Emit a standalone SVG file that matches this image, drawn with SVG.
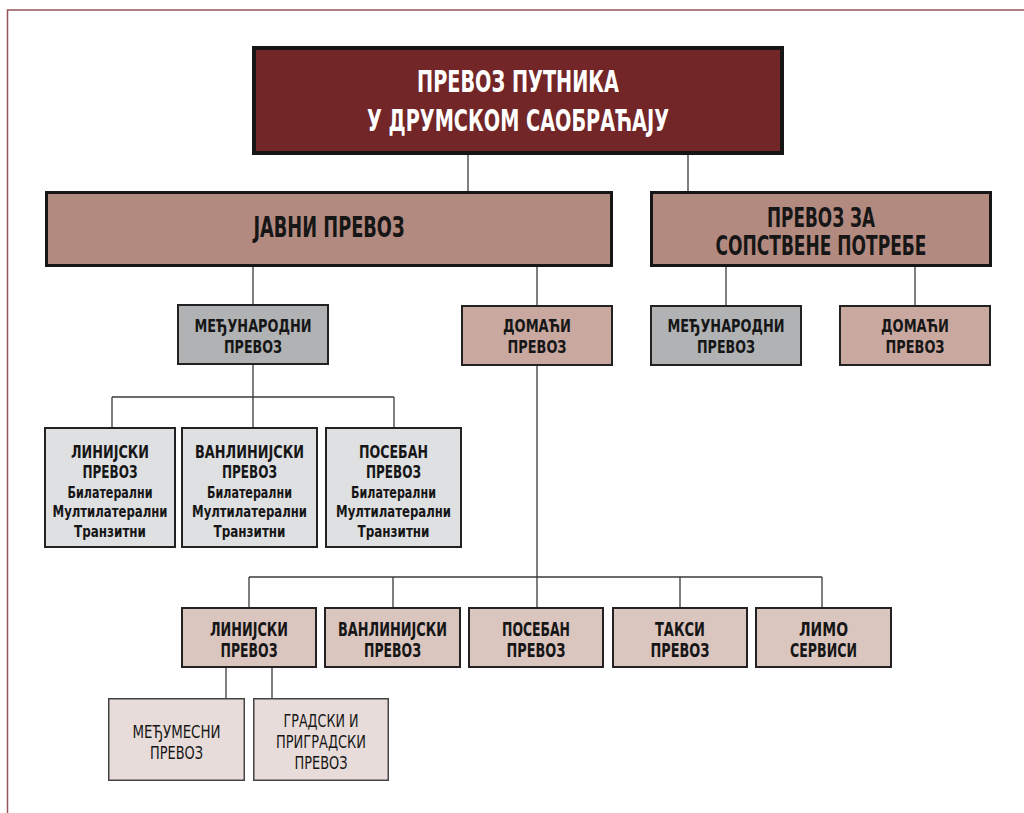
<svg xmlns="http://www.w3.org/2000/svg" width="1024" height="813" viewBox="0 0 1024 813">
<style>
text{font-family:"Liberation Sans Narrow","DejaVu Sans Condensed","Liberation Sans",Arial,sans-serif;font-weight:bold;text-anchor:middle;fill:#161616}
.w{fill:#ffffff}
.reg{font-weight:normal}
.c{font-size:18px}
.s{font-size:16px}
.l1{stroke:#161616;stroke-width:4}
.l2{stroke:#161616;stroke-width:3}
.l3{stroke:#222;stroke-width:2}
.l4{stroke:#444;stroke-width:1.5}
.conn line{stroke:#3a3a3a;stroke-width:1.3}
</style>
<rect width="1024" height="813" fill="#ffffff"/>
<path d="M1024 10 H7.5 V813" fill="none" stroke="#93545a" stroke-width="1.5"/>

<g class="conn" id="connectors">
<line x1="468" y1="155" x2="468" y2="191"/>
<line x1="688" y1="155" x2="688" y2="191"/>
<line x1="253" y1="267" x2="253" y2="304"/>
<line x1="537" y1="267" x2="537" y2="305"/>
<line x1="726" y1="267" x2="726" y2="305"/>
<line x1="915" y1="267" x2="915" y2="305"/>
<line x1="253" y1="365" x2="253" y2="427"/>
<line x1="112" y1="397" x2="394" y2="397"/>
<line x1="112" y1="397" x2="112" y2="427"/>
<line x1="394" y1="397" x2="394" y2="427"/>
<line x1="537" y1="366" x2="537" y2="607"/>
<line x1="249" y1="577" x2="822" y2="577"/>
<line x1="249" y1="577" x2="249" y2="607"/>
<line x1="393" y1="577" x2="393" y2="607"/>
<line x1="680" y1="577" x2="680" y2="607"/>
<line x1="822" y1="577" x2="822" y2="607"/>
<line x1="226" y1="668" x2="226" y2="698"/>
<line x1="272" y1="668" x2="272" y2="698"/>
</g>

<g id="root">
<rect class="l1" x="254" y="48" width="528" height="105" fill="#722628"/>
<text class="w" x="518" y="92" font-size="30" textLength="202" lengthAdjust="spacingAndGlyphs">ПРЕВОЗ ПУТНИКА</text>
<text class="w" x="518" y="131" font-size="30" textLength="302" lengthAdjust="spacingAndGlyphs">У ДРУМСКОМ САОБРАЋАЈУ</text>
</g>

<g id="javni">
<rect class="l2" x="46.5" y="192.5" width="565" height="73" fill="#b38a80"/>
<text x="329" y="237" font-size="29" textLength="151" lengthAdjust="spacingAndGlyphs">ЈАВНИ ПРЕВОЗ</text>
</g>

<g id="sopstvene">
<rect class="l2" x="651.5" y="192.5" width="339" height="73" fill="#b38a80"/>
<text x="821" y="227" font-size="27" textLength="108" lengthAdjust="spacingAndGlyphs">ПРЕВОЗ ЗА</text>
<text x="821" y="255" font-size="27" textLength="211" lengthAdjust="spacingAndGlyphs">СОПСТВЕНЕ ПОТРЕБЕ</text>
</g>

<g id="medj1">
<rect class="l3" x="178" y="305" width="150" height="59" fill="#b0b2b4"/>
<text x="253" y="332" font-size="18.5" textLength="117" lengthAdjust="spacingAndGlyphs">МЕЂУНАРОДНИ</text>
<text x="253" y="353" font-size="18.5" textLength="58" lengthAdjust="spacingAndGlyphs">ПРЕВОЗ</text>
</g>

<g id="domaci1">
<rect class="l3" x="462" y="306" width="150" height="59" fill="#c9a8a0"/>
<text x="537" y="332" font-size="18.5" textLength="68" lengthAdjust="spacingAndGlyphs">ДОМАЋИ</text>
<text x="537" y="353" font-size="18.5" textLength="59" lengthAdjust="spacingAndGlyphs">ПРЕВОЗ</text>
</g>

<g id="medj2">
<rect class="l3" x="651" y="306" width="150" height="59" fill="#b0b2b4"/>
<text x="726" y="332" font-size="18.5" textLength="117" lengthAdjust="spacingAndGlyphs">МЕЂУНАРОДНИ</text>
<text x="726" y="353" font-size="18.5" textLength="58" lengthAdjust="spacingAndGlyphs">ПРЕВОЗ</text>
</g>

<g id="domaci2">
<rect class="l3" x="840" y="306" width="150" height="59" fill="#c9a8a0"/>
<text x="915" y="332" font-size="18.5" textLength="68" lengthAdjust="spacingAndGlyphs">ДОМАЋИ</text>
<text x="915" y="353" font-size="18.5" textLength="59" lengthAdjust="spacingAndGlyphs">ПРЕВОЗ</text>
</g>

<g id="int-linijski">
<rect class="l3" x="45" y="428" width="130" height="119" fill="#dfe0e2"/>
<text class="c" x="110" y="458" textLength="78" lengthAdjust="spacingAndGlyphs">ЛИНИЈСКИ</text>
<text class="c" x="110" y="477.5" textLength="55" lengthAdjust="spacingAndGlyphs">ПРЕВОЗ</text>
<text class="s" x="110" y="497.5" textLength="85" lengthAdjust="spacingAndGlyphs">Билатерални</text>
<text class="s" x="110" y="517" textLength="115" lengthAdjust="spacingAndGlyphs">Мултилатерални</text>
<text class="s" x="110" y="536.5" textLength="72" lengthAdjust="spacingAndGlyphs">Транзитни</text>
</g>

<g id="int-vanlinijski">
<rect class="l3" x="182" y="428" width="135" height="119" fill="#dfe0e2"/>
<text class="c" x="249.5" y="458" textLength="109" lengthAdjust="spacingAndGlyphs">ВАНЛИНИЈСКИ</text>
<text class="c" x="249.5" y="477.5" textLength="55" lengthAdjust="spacingAndGlyphs">ПРЕВОЗ</text>
<text class="s" x="249.5" y="497.5" textLength="85" lengthAdjust="spacingAndGlyphs">Билатерални</text>
<text class="s" x="249.5" y="517" textLength="115" lengthAdjust="spacingAndGlyphs">Мултилатерални</text>
<text class="s" x="249.5" y="536.5" textLength="72" lengthAdjust="spacingAndGlyphs">Транзитни</text>
</g>

<g id="int-poseban">
<rect class="l3" x="326" y="428" width="135" height="119" fill="#dfe0e2"/>
<text class="c" x="393.5" y="458" textLength="69" lengthAdjust="spacingAndGlyphs">ПОСЕБАН</text>
<text class="c" x="393.5" y="477.5" textLength="55" lengthAdjust="spacingAndGlyphs">ПРЕВОЗ</text>
<text class="s" x="393.5" y="497.5" textLength="85" lengthAdjust="spacingAndGlyphs">Билатерални</text>
<text class="s" x="393.5" y="517" textLength="115" lengthAdjust="spacingAndGlyphs">Мултилатерални</text>
<text class="s" x="393.5" y="536.5" textLength="72" lengthAdjust="spacingAndGlyphs">Транзитни</text>
</g>

<g id="dom-linijski">
<rect class="l3" x="182" y="608" width="134" height="59" fill="#dbc5bf"/>
<text x="249" y="636" font-size="19" textLength="78" lengthAdjust="spacingAndGlyphs">ЛИНИЈСКИ</text>
<text x="249" y="657" font-size="19" textLength="57" lengthAdjust="spacingAndGlyphs">ПРЕВОЗ</text>
</g>

<g id="dom-vanlinijski">
<rect class="l3" x="325" y="608" width="135" height="59" fill="#dbc5bf"/>
<text x="392.5" y="636" font-size="19" textLength="109" lengthAdjust="spacingAndGlyphs">ВАНЛИНИЈСКИ</text>
<text x="392.5" y="657" font-size="19" textLength="57" lengthAdjust="spacingAndGlyphs">ПРЕВОЗ</text>
</g>

<g id="dom-poseban">
<rect class="l3" x="469" y="608" width="134" height="59" fill="#dbc5bf"/>
<text x="536" y="636" font-size="19" textLength="68" lengthAdjust="spacingAndGlyphs">ПОСЕБАН</text>
<text x="536" y="657" font-size="19" textLength="59" lengthAdjust="spacingAndGlyphs">ПРЕВОЗ</text>
</g>

<g id="dom-taksi">
<rect class="l3" x="613" y="608" width="134" height="59" fill="#dbc5bf"/>
<text x="680" y="636" font-size="19" textLength="50" lengthAdjust="spacingAndGlyphs">ТАКСИ</text>
<text x="680" y="657" font-size="19" textLength="59" lengthAdjust="spacingAndGlyphs">ПРЕВОЗ</text>
</g>

<g id="dom-limo">
<rect class="l3" x="756" y="608" width="135" height="59" fill="#dbc5bf"/>
<text x="823.5" y="636" font-size="19" textLength="49" lengthAdjust="spacingAndGlyphs">ЛИМО</text>
<text x="823.5" y="657" font-size="19" textLength="67" lengthAdjust="spacingAndGlyphs">СЕРВИСИ</text>
</g>

<g id="medjumesni">
<rect class="l4" x="108.75" y="698.75" width="135.5" height="81.5" fill="#e7dcd9"/>
<text class="reg" x="176.5" y="738" font-size="18" textLength="88" lengthAdjust="spacingAndGlyphs">МЕЂУМЕСНИ</text>
<text class="reg" x="176.5" y="758.5" font-size="18" textLength="53" lengthAdjust="spacingAndGlyphs">ПРЕВОЗ</text>
</g>

<g id="gradski">
<rect class="l4" x="253.75" y="698.75" width="134.5" height="81.5" fill="#e7dcd9"/>
<text class="reg" x="321" y="727" font-size="18" textLength="75" lengthAdjust="spacingAndGlyphs">ГРАДСКИ И</text>
<text class="reg" x="321" y="748" font-size="18" textLength="90" lengthAdjust="spacingAndGlyphs">ПРИГРАДСКИ</text>
<text class="reg" x="321" y="769" font-size="18" textLength="53" lengthAdjust="spacingAndGlyphs">ПРЕВОЗ</text>
</g>
</svg>
